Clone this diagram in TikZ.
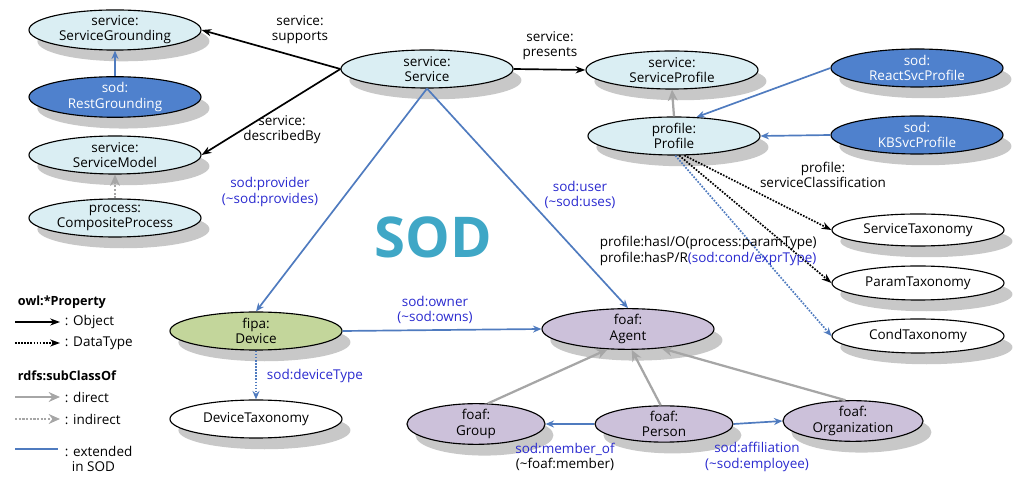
\documentclass[tikz,border=0pt]{standalone}
\usepackage{fontspec}
\setmainfont{Open Sans}
\usepackage{xcolor}
\usetikzlibrary{arrows.meta,shapes.geometric}

\definecolor{hellblau}{HTML}{DAEEF3}
\definecolor{dunkelblau}{HTML}{4F81CD}
\definecolor{linieblau}{HTML}{4F7BBF}
\definecolor{gruen}{HTML}{C3D69B}
\definecolor{lila}{HTML}{CCC1DA}
\definecolor{textblau}{HTML}{2A2ACF}
\definecolor{sodtuerkis}{HTML}{3FA7C6}
\definecolor{schatten}{HTML}{C8C8C8}

\tikzset{
  klasse/.style={ellipse, draw=black, line width=0.8pt, align=center,
    minimum width=4.3cm, minimum height=0.95cm, inner sep=0pt,
    font=\fontsize{9.6}{10.8}\selectfont,
    preaction={fill=schatten, draw=none, transform canvas={xshift=6pt,yshift=-8pt}}},
  kleinklasse/.style={klasse, minimum width=3.45cm, minimum height=0.85cm},
  lbl/.style={align=center, font=\fontsize{9.6}{10.8}\selectfont},
  blaulbl/.style={lbl, text=textblau},
  objekt/.style={-{Stealth[length=7pt,width=5pt]}, line width=1.2pt, black},
  datentyp/.style={objekt, densely dotted},
  direkt/.style={-{Stealth[length=8pt,width=7pt]}, line width=1.6pt, gray!70},
  indirekt/.style={direkt, densely dotted},
  erweitert/.style={-{Stealth[length=6pt,width=5pt]}, line width=1.2pt, linieblau},
  erweitertpunkt/.style={erweitert, densely dotted}
}

\begin{document}
\begin{tikzpicture}[x=0.025cm,y=-0.025cm]
  \useasboundingbox (0,0) rectangle (1035,484);

  % Knoten
  \node[klasse, fill=hellblau] (grounding) at (115,30) {service:\\ServiceGrounding};
  \node[klasse, fill=dunkelblau, text=white] (rest) at (115,97) {sod:\\RestGrounding};
  \node[klasse, fill=hellblau] (model) at (115,155) {service:\\ServiceModel};
  \node[klasse, fill=hellblau] (composite) at (115,218) {process:\\CompositeProcess};
  \node[klasse, fill=hellblau] (service) at (427,69) {service:\\Service};
  \node[klasse, fill=hellblau] (svcprofile) at (672,70) {service:\\ServiceProfile};
  \node[klasse, fill=hellblau] (profile) at (674,136) {profile:\\Profile};
  \node[klasse, fill=dunkelblau, text=white] (react) at (917,68) {sod:\\ReactSvcProfile};
  \node[klasse, fill=dunkelblau, text=white] (kbs) at (917,135) {sod:\\KBSvcProfile};
  \node[klasse, fill=white, minimum height=0.8cm] (svctax) at (918,230) {ServiceTaxonomy};
  \node[klasse, fill=white, minimum height=0.85cm] (paramtax) at (918,283) {ParamTaxonomy};
  \node[klasse, fill=white, minimum height=0.85cm] (condtax) at (918,336) {CondTaxonomy};
  \node[klasse, fill=gruen] (device) at (256,331) {fipa:\\Device};
  \node[klasse, fill=white] (devtax) at (256,419) {DeviceTaxonomy};
  \node[klasse, fill=lila] (agent) at (628,329) {foaf:\\Agent};
  \node[kleinklasse, fill=lila] (group) at (476,424) {foaf:\\Group};
  \node[kleinklasse, fill=lila] (person) at (664,424) {foaf:\\Person};
  \node[kleinklasse, fill=lila, minimum width=3.5cm] (org) at (853,421) {foaf:\\Organization};

  \node[font=\fontsize{40}{40}\selectfont\bfseries, text=sodtuerkis] (sod) at (433,237) {SOD};

  % Kanten
  \draw[objekt] (service.west) -- (grounding.east);
  \draw[objekt] (service.west) -- (model.east);
  \draw[objekt] (service.east) -- (svcprofile.west);
  \draw[erweitert, line width=1.8pt] (rest.north) -- (grounding.south);
  \draw[indirekt] (composite.north) -- (model.south);
  \draw[direkt] (profile.north) -- (svcprofile.south);
  \draw[erweitert] (react.west) -- (profile.40);
  \draw[erweitert] (kbs.west) -- (profile.east);
  \draw[datentyp] (profile.-62) -- (svctax.west);
  \draw[datentyp] (profile.-75) -- (paramtax.west);
  \draw[erweitertpunkt] (profile.-86) -- (condtax.west);
  \draw[erweitert] (service.south) -- (device.north);
  \draw[erweitert] (service.south) -- (agent.north);
  \draw[erweitert] (device.east) -- (agent.west);
  \draw[erweitertpunkt] (device.south) -- (devtax.north);
  \draw[direkt] (group.60) -- (agent.-135);
  \draw[direkt] (person.100) -- (agent.-80);
  \draw[direkt] (org.110) -- (agent.-30);
  \draw[erweitert] (person.west) -- (group.east);
  \draw[erweitert] (person.east) -- (org.west);

  % Beschriftungen
  \node[lbl] (lsupports) at (300,30) {service:\\supports};
  \node[lbl] (lpresents) at (550,46) {service:\\presents};
  \node[lbl] (ldescribed) at (282,130) {service:\\describedBy};
  \node[blaulbl] (lprovider) at (270,192) {sod:provider\\(\textasciitilde sod:provides)};
  \node[blaulbl] (luser) at (580,195) {sod:user\\(\textasciitilde sod:uses)};
  \node[lbl] (lclass) at (823,175) {profile:\\serviceClassification};
  \node[lbl, align=left, anchor=west] (lhas) at (595,251)
    {profile:hasI/O(process:paramType)\\profile:hasP/R{\color{textblau}(sod:cond/exprType)}};
  \node[blaulbl] (lowner) at (435,310) {sod:owner\\(\textasciitilde sod:owns)};
  \node[blaulbl, anchor=west] (ldevtype) at (262,376) {sod:deviceType};
  \node[lbl] (lmember) at (565,457) {{\color{textblau}sod:member\_of}\\(\textasciitilde foaf:member)};
  \node[blaulbl] (laffil) at (757,457) {sod:affiliation\\(\textasciitilde sod:employee)};

  % Legende
  \node[anchor=west, font=\fontsize{9}{10}\selectfont\bfseries] (lprop) at (13,302) {owl:*Property};
  \coordinate (o1) at (15,322); \coordinate (o2) at (60,322);
  \draw[objekt] (o1) -- (o2);
  \node[lbl, anchor=west] (lobj) at (60,322) {: Object};
  \coordinate (d1) at (15,343); \coordinate (d2) at (60,343);
  \draw[datentyp] (d1) -- (d2);
  \node[lbl, anchor=west] (ldt) at (60,343) {: DataType};
  \node[anchor=west, font=\fontsize{9}{10}\selectfont\bfseries] (lsub) at (13,376) {rdfs:subClassOf};
  \coordinate (s1) at (15,397); \coordinate (s2) at (60,397);
  \draw[direkt] (s1) -- (s2);
  \node[lbl, anchor=west] (ldir) at (60,397) {: direct};
  \coordinate (i1) at (15,419); \coordinate (i2) at (60,419);
  \draw[indirekt] (i1) -- (i2);
  \node[lbl, anchor=west] (lind) at (60,419) {: indirect};
  \coordinate (e1) at (15,449); \coordinate (e2) at (58,449);
  \draw[linieblau, line width=2pt] (e1) -- (e2);
  \node[lbl, align=left, anchor=north west] (lext) at (60,441) {: extended\\\ \ in SOD};

\end{tikzpicture}
\end{document}
